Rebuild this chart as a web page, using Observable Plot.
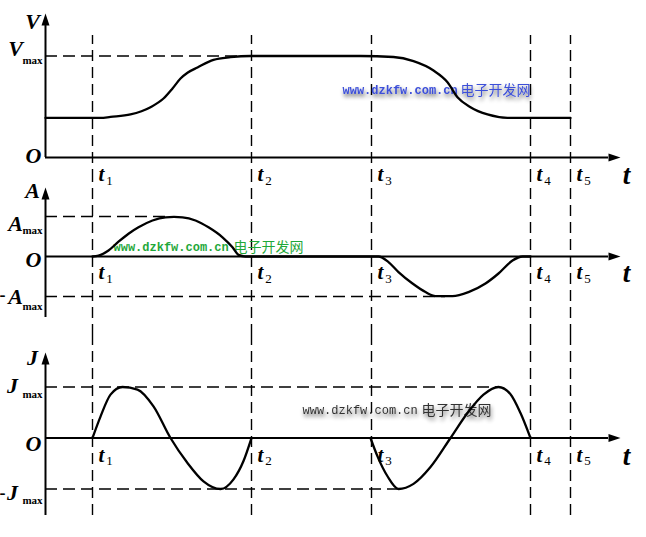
<!DOCTYPE html>
<html>
<head>
<meta charset="utf-8">
<script src="https://cdn.jsdelivr.net/npm/d3@7"></script>
<script src="https://cdn.jsdelivr.net/npm/@observablehq/plot@0.6"></script>
<style>
  html, body { margin: 0; padding: 0; background: #fff; }
  #chart { width: 646px; height: 537px; position: relative; overflow: hidden; }
  #chart svg { display: block; overflow: visible; }
</style>
</head>
<body>
<div id="chart"></div>
<script>
// ---- data ----
const tSubs  = ["1", "2", "3", "4", "5"];
const tTimes = [4.7, 20.6, 32.6, 48.5, 52.5];
const tEnd = 56.3;                     // end of the time axis line (arrow head follows)

// velocity (Vmax = 1)
const velT = [0, 5.5, 6.5, 8.5, 10.5, 11.8, 12.7, 13.5, 14.2, 15.2, 16.8, 18.5, 20.5,
              31.5, 34.8, 36.8, 38.8, 40.2, 41.2, 42.5, 44.2, 46.2, 48.5, 52.5];
const velV = [0.39, 0.39, 0.40, 0.424, 0.496, 0.581, 0.68, 0.778, 0.835, 0.887, 0.962, 0.988, 1.0,
              1.0, 0.99, 0.949, 0.857, 0.742, 0.594, 0.496, 0.424, 0.391, 0.39, 0.39];

// acceleration (Amax = 1)
const accT = [4.7, 5.3, 6.3, 7.3, 8.3, 9.3, 10.7, 12.0, 12.85, 13.7, 15.0, 16.3, 17.7, 18.7, 19.3, 20.0,
              33.3, 34.3, 35.3, 36.7, 38.0, 39.0, 40.7, 42.3, 44.0, 45.3, 46.7, 47.7, 48.5];
const accV = [0, 0.02, 0.15, 0.37, 0.57, 0.73, 0.9, 0.98, 0.99, 0.98, 0.9, 0.73, 0.48, 0.23, 0.04, 0,
              0, -0.14, -0.39, -0.675, -0.89, -0.99, -0.99, -0.89, -0.675, -0.425, -0.1, 0, 0];

// jerk (Jmax = 1): acceleration phase and deceleration phase
const jerkUpT = [4.7, 5.5, 6.5, 7.7, 9.2, 10.8, 12.5, 14.2, 15.8, 17.5, 18.8, 19.8, 20.6];
const jerkUpV = [0, 0.42, 0.85, 1.0, 0.95, 0.62, 0, -0.49, -0.85, -1.0, -0.81, -0.45, 0];
const jerkDnT = [32.5, 33.2, 34.2, 35.3, 36.8, 38.5, 40.5, 42.2, 43.8, 45.3, 46.5, 47.5, 48.5];
const jerkDnV = [0, -0.36, -0.75, -1.0, -0.9, -0.57, 0, 0.49, 0.85, 1.0, 0.86, 0.49, 0];

const axisLetters = ["V", "A", "J"];
const maxSub = "max";
const originLabel = "O";
const timeLabel = "t";
const wmUrl = "www.dzkfw.com.cn";
const wmName = "电子开发网";

// ---- drawing ----
const serif = "'Liberation Serif', 'Times New Roman', serif";
const mono = "'Liberation Mono', 'DejaVu Sans Mono', monospace";
const cjk = "'Noto Sans CJK SC', sans-serif";
const head = {draw(ctx, l, r) { ctx.moveTo(-r, 0); ctx.lineTo(0, -l); ctx.lineTo(r, 0); ctx.closePath(); }};
const tRows = tTimes.map((t, i) => ({t, sub: tSubs[i]}));

function txt(s, o) {
  return Plot.text([s], Object.assign({text: d => d, fill: "black", fontFamily: serif,
    fontWeight: "bold", textAnchor: "middle"}, o));
}

function common(p) {
  return [
    Plot.ruleX(tTimes, {y1: p.dashLow, y2: p.dashHigh, stroke: "black", strokeWidth: 1.4, strokeDasharray: "11,6"}),
    Plot.ruleX([0], {y1: p.axisBottom, y2: p.axisBase, stroke: "black", strokeWidth: 2}),
    Plot.ruleY([0], {x1: 0, x2: tEnd, stroke: "black", strokeWidth: 2}),
    Plot.vector([0], {x: 0, y: p.axisBase, length: 12, r: 4, rotate: 0, anchor: "start", shape: head, fill: "black", stroke: "none"}),
    Plot.vector([0], {x: tEnd, y: 0, length: 12, r: 4, rotate: 90, anchor: "start", shape: head, fill: "black", stroke: "none"}),
    Plot.text(tRows, {x: "t", y: 0, text: () => timeLabel, dx: 9, dy: p.tDy, fontFamily: serif, fontStyle: "italic", fontWeight: "bold", fontSize: 21, fill: "black"}),
    Plot.text(tRows, {x: "t", y: 0, text: "sub", dx: 17, dy: p.tDy + 6, fontFamily: serif, fontSize: 13, fill: "black"}),
    txt(timeLabel, {x: tEnd, y: 0, dx: 18, dy: p.tDy + 1, fontSize: 27, fontStyle: "italic"}),
    txt(originLabel, {x: 0, y: 0, dx: -12, dy: p.oDy, fontSize: 22, fontStyle: "italic"}),
    txt(p.letter, {x: 0, y: p.axisBase, dx: -13, dy: p.letterDy, fontSize: 22, fontStyle: "italic"})
  ];
}

function makePlot(height, domain, marks) {
  return Plot.plot({
    width: 646, height,
    marginLeft: 45, marginRight: 0, marginTop: 0, marginBottom: 0,
    x: {domain: [0, 60.1], axis: null},
    y: {domain, axis: null},
    style: {background: "transparent", overflow: "visible"},
    marks
  });
}

// Panel 1: velocity
const p1 = makePlot(180, [-0.2266, 1.5468], [
  ...common({dashLow: -0.2266, dashHigh: 1.202, axisBottom: 0, axisBase: 1.30, tDy: 17, oDy: -2, letter: axisLetters[0], letterDy: -4}),
  Plot.ruleY([1], {x1: 0, x2: 20.6, stroke: "black", strokeWidth: 1.4, strokeDasharray: "12,6"}),
  txt(axisLetters[0], {x: 0, y: 1, dx: -30, dy: -7, fontSize: 22, fontStyle: "italic"}),
  txt(maxSub, {x: 0, y: 1, dx: -13, dy: 4, fontSize: 11}),
  Plot.text([wmUrl], {x: 29.7, y: 0.66, text: d => d, textAnchor: "start", fontFamily: mono, fontSize: 12, fontWeight: "bold", fill: "#3c4fd8"}),
  Plot.text([wmName], {x: 41.5, y: 0.66, text: d => d, textAnchor: "start", fontFamily: cjk, fontSize: 14, fill: "#3c4fd8"}),
  Plot.line(velT, {x: velT, y: velV, curve: "monotone-x", stroke: "black", strokeWidth: 2.3})
]);

// Panel 2: acceleration
const p2 = makePlot(155, [-1.975, 1.9], [
  ...common({dashLow: -1.975, dashHigh: 1.9, axisBottom: -1.525, axisBase: 1.425, tDy: 16, oDy: 3, letter: axisLetters[1], letterDy: -9}),
  Plot.ruleY([1], {x1: 0, x2: 12.2, stroke: "black", strokeWidth: 1.4, strokeDasharray: "12,6"}),
  Plot.ruleY([-1], {x1: 0, x2: 40, stroke: "black", strokeWidth: 1.4, strokeDasharray: "12,6"}),
  txt(axisLetters[1], {x: 0, y: 1, dx: -30, dy: 7, fontSize: 22, fontStyle: "italic"}),
  txt(maxSub, {x: 0, y: 1, dx: -13, dy: 14, fontSize: 11}),
  txt("-", {x: 0, y: -1, dx: -43, dy: -1, fontSize: 18}),
  txt(axisLetters[1], {x: 0, y: -1, dx: -30, dy: 0, fontSize: 22, fontStyle: "italic"}),
  txt(maxSub, {x: 0, y: -1, dx: -13, dy: 10, fontSize: 11}),
  Plot.text([wmUrl], {x: 6.8, y: 0.225, text: d => d, textAnchor: "start", fontFamily: mono, fontSize: 12, fontWeight: "bold", fill: "#1fa83a"}),
  Plot.text([wmName], {x: 18.8, y: 0.225, text: d => d, textAnchor: "start", fontFamily: cjk, fontSize: 14, fill: "#1fa83a"}),
  Plot.line(accT, {x: accT, y: accV, curve: "monotone-x", stroke: "black", strokeWidth: 2.3})
]);

// Panel 3: jerk
const p3 = makePlot(202, [-1.951, 2.0098], [
  ...common({dashLow: -1.52, dashHigh: 2.0098, axisBottom: -1.52, axisBase: 1.441, tDy: 17, oDy: 6, letter: axisLetters[2], letterDy: -7}),
  Plot.ruleY([1], {x1: 0, x2: 45.3, stroke: "black", strokeWidth: 1.4, strokeDasharray: "12,6"}),
  Plot.ruleY([-1], {x1: 0, x2: 35.5, stroke: "black", strokeWidth: 1.4, strokeDasharray: "12,6"}),
  txt(axisLetters[2], {x: 0, y: 1, dx: -33, dy: -1, fontSize: 22, fontStyle: "italic"}),
  txt(maxSub, {x: 0, y: 1, dx: -13, dy: 7, fontSize: 11}),
  txt("-", {x: 0, y: -1, dx: -43, dy: 4, fontSize: 18}),
  txt(axisLetters[2], {x: 0, y: -1, dx: -33, dy: 4, fontSize: 22, fontStyle: "italic"}),
  txt(maxSub, {x: 0, y: -1, dx: -13, dy: 11, fontSize: 11}),
  Plot.text([wmUrl], {x: 25.7, y: 0.54, text: d => d, textAnchor: "start", fontFamily: mono, fontSize: 12, fill: "#333333"}),
  Plot.text([wmName], {x: 37.6, y: 0.54, text: d => d, textAnchor: "start", fontFamily: cjk, fontSize: 14, fill: "#333333"}),
  Plot.line(jerkUpT, {x: jerkUpT, y: jerkUpV, curve: "monotone-x", stroke: "black", strokeWidth: 2.3}),
  Plot.line(jerkDnT, {x: jerkDnT, y: jerkDnV, curve: "monotone-x", stroke: "black", strokeWidth: 2.3})
]);

const chart = document.getElementById("chart");
[p1, p2, p3].forEach(s => chart.appendChild(s));

// soft blurred shadow on the blue and grey watermarks (SVG filter)
[p1, p3].forEach((s, k) => {
  const ns = "http://www.w3.org/2000/svg";
  const id = "wmshadow" + k;
  const defs = document.createElementNS(ns, "defs");
  defs.innerHTML = `<filter id="${id}" x="-10%" y="-80%" width="120%" height="280%">
    <feGaussianBlur in="SourceAlpha" stdDeviation="2.2"/>
    <feOffset dx="1" dy="3" result="b"/>
    <feComponentTransfer in="b" result="s"><feFuncA type="linear" slope="0.6"/></feComponentTransfer>
    <feMerge><feMergeNode in="s"/><feMergeNode in="SourceGraphic"/></feMerge></filter>`;
  s.insertBefore(defs, s.firstChild);
  s.querySelectorAll("g[aria-label='text']").forEach(g => {
    const f = (g.getAttribute("fill") || "").toLowerCase();
    if (f === "#3c4fd8" || f === "#333333") g.setAttribute("filter", `url(#${id})`);
  });
});
</script>
</body>
</html>
